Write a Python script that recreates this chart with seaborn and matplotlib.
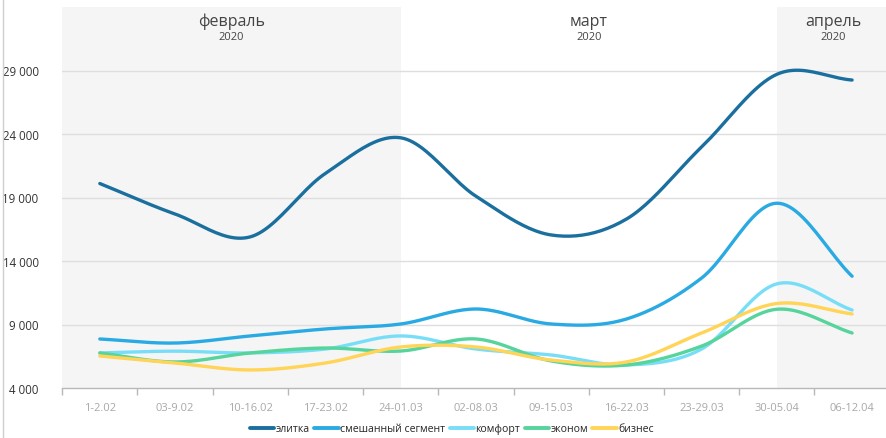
import numpy as np
import pandas as pd
import matplotlib
matplotlib.use("Agg")
import matplotlib.pyplot as plt
import seaborn as sns

weeks = ["1-2.02", "03-9.02", "10-16.02", "17-23.02", "24-01.03", "02-08.03",
         "09-15.03", "16-22.03", "23-29.03", "30-05.04", "06-12.04"]

elitka = [20100, 17700, 15900, 20900, 23700, 19100, 16050, 17300, 22980, 28700, 28250]
smeshannyi = [7860, 7540, 8100, 8650, 9040, 10220, 9040, 9430, 12660, 18550, 12800]
komfort = [6760, 6900, 6760, 7070, 8100, 7070, 6600, 5810, 7070, 12200, 10140]
ekonom = [6760, 6050, 6760, 7150, 6910, 7860, 6130, 5810, 7300, 10200, 8330]
biznes = [6520, 5970, 5420, 5970, 7230, 7230, 6200, 6050, 8330, 10650, 9830]

series_names = ["элитка", "смешанный сегмент", "комфорт", "эконом", "бизнес"]
series_values = [elitka, smeshannyi, komfort, ekonom, biznes]
colors = ["#1b6f9f", "#2aaae2", "#78def7", "#56d49c", "#ffd457"]

y_ticks = [4000, 9000, 14000, 19000, 24000, 29000]
months = [("февраль", -0.5, 4), ("март", 4, 9), ("апрель", 9, 10.5)]
year_label = "2020"


def catmull_rom(values, steps=24):
    """Smooth curve through the points (uniform Catmull-Rom spline)."""
    p = np.asarray(values, dtype=float)
    n = len(p)
    xs, ys = [], []
    ext = np.concatenate([[2 * p[0] - p[1]], p, [2 * p[-1] - p[-2]]])
    for i in range(n - 1):
        p0, p1, p2, p3 = ext[i], ext[i + 1], ext[i + 2], ext[i + 3]
        t = np.linspace(0, 1, steps, endpoint=(i == n - 2))
        y = 0.5 * ((2 * p1) + (-p0 + p2) * t + (2 * p0 - 5 * p1 + 4 * p2 - p3) * t ** 2
                   + (-p0 + 3 * p1 - 3 * p2 + p3) * t ** 3)
        xs.append(i + t)
        ys.append(y)
    return np.concatenate(xs), np.concatenate(ys)


frames = []
for name, vals in zip(series_names, series_values):
    x, y = catmull_rom(vals)
    frames.append(pd.DataFrame({"x": x, "value": y, "segment": name}))
df = pd.concat(frames, ignore_index=True)

sns.set_theme(style="white")
plt.rcParams["font.family"] = ["Open Sans", "DejaVu Sans"]

fig = plt.figure(figsize=(8.86, 4.39), dpi=100)
ax = fig.add_axes([62.2 / 886, 1 - 389 / 439, 827.5 / 886, 381 / 439])

# month shading
ax.axvspan(-0.5, 4, color="#f5f5f5", zorder=0, lw=0)
ax.axvspan(9, 10.5, color="#f5f5f5", zorder=0, lw=0)

for yt in y_ticks[1:]:
    ax.axhline(yt, color="#dedede", lw=1, zorder=1)

sns.lineplot(data=df, x="x", y="value", hue="segment", hue_order=series_names,
             palette=colors, sort=False, estimator=None, linewidth=2.4,
             ax=ax, legend=False, zorder=3)

ax.set_xlim(-0.5, 10.5)
ax.set_ylim(4000, 34000)
ax.set_xlabel("")
ax.set_ylabel("")

ax.set_xticks(range(len(weeks)))
ax.set_xticklabels(weeks, color="#a8a8a8", fontsize=8)
ax.set_xticks(np.arange(-0.5, 10.6, 1), minor=True)
ax.tick_params(axis="x", which="major", length=0, pad=10)
ax.tick_params(axis="x", which="minor", length=5, color="#b8b8b8", width=1, bottom=True)

ax.set_yticks(y_ticks)
ax.set_yticklabels([f"{v:,}".replace(",", " ") for v in y_ticks],
                   color="#333333", fontsize=8.3)
ax.tick_params(axis="y", length=0, pad=17)

for side in ["top", "right", "left"]:
    ax.spines[side].set_visible(False)
ax.spines["bottom"].set_color("#b8b8b8")
ax.spines["bottom"].set_linewidth(1)

for label, a, b in months:
    xc = (a + b) / 2
    ax.text(xc, 1 - 14 / 381, label, transform=ax.get_xaxis_transform(),
            ha="center", va="center", fontsize=11.5, color="#444444")
    ax.text(xc, 1 - 30 / 381, year_label, transform=ax.get_xaxis_transform(),
            ha="center", va="center", fontsize=8, color="#444444")

# left frame line
fig.add_artist(plt.Line2D([2.5 / 886, 2.5 / 886], [0, 1], color="#cfcfcf", lw=1))

handles = [plt.Line2D([0], [0], color=c, lw=2.8) for c in colors]
fig.legend(handles, series_names, loc="center", bbox_to_anchor=(452 / 886, 1 - 430 / 439),
           ncol=5, frameon=False, fontsize=7.6, handlelength=2.3, handletextpad=0.15,
           columnspacing=0.4, borderaxespad=0)

fig.savefig("out.png", dpi=100)
